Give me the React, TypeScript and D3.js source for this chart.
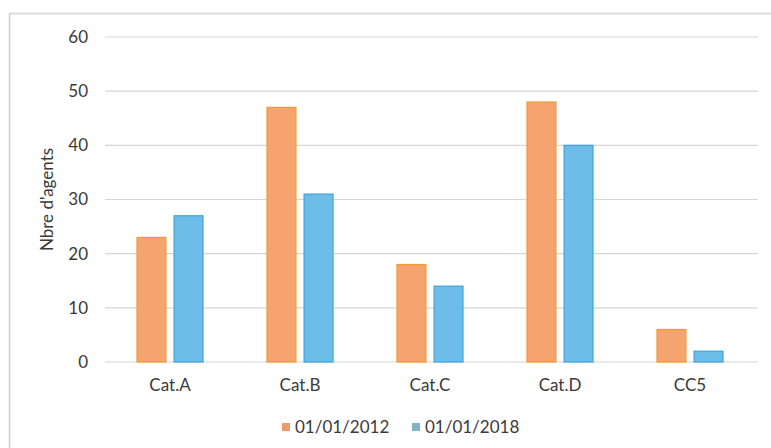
import React from "react";
import * as d3 from "d3";

const categories = ["Cat.A", "Cat.B", "Cat.C", "Cat.D", "CC5"];
const series2012 = [23, 47, 18, 48, 6];
const series2018 = [27, 31, 14, 40, 2];
const seriesNames = ["01/01/2012", "01/01/2018"];
const yTicks = [0, 10, 20, 30, 40, 50, 60];

const W = 771;
const H = 448;
const FONT = "Lato, 'Open Sans', sans-serif";

export default function App() {
  const y = d3.scaleLinear().domain([0, 60]).range([362, 37]);
  const x = d3.scaleBand<string>().domain(categories).range([105, 755]);
  const groupW = 66;
  const inner = d3
    .scaleBand<string>()
    .domain(seriesNames)
    .range([0, groupW])
    .paddingInner(0.22);
  const fills = ["#F5A46F", "#6DBDE8"];
  const strokes = ["#F39A2E", "#3FA3DA"];
  const data = [series2012, series2018];

  return (
    <svg
      width={W}
      height={H}
      style={{ position: "absolute", left: 0, top: 0, background: "#fff" }}
    >
      <rect x={0} y={0} width={W} height={H} fill="#fff" />
      <line x1={9} x2={W} y1={13.5} y2={13.5} stroke="#dcdcdc" strokeWidth={2} />
      <line x1={9.5} x2={9.5} y1={13} y2={H} stroke="#cfcfcf" strokeWidth={1.5} />
      {yTicks.map((t) => (
        <g key={t}>
          <line
            x1={105}
            x2={758}
            y1={y(t)}
            y2={y(t)}
            stroke="#d6d6d6"
            strokeWidth={1.2}
          />
          <text
            x={88}
            y={y(t)}
            dy="0.35em"
            textAnchor="end"
            fontFamily={FONT}
            fontSize={17}
            fill="#3a3a3a"
          >
            {t}
          </text>
        </g>
      ))}
      <text
        transform={`translate(53,${y(30)}) rotate(-90)`}
        textAnchor="middle"
        fontFamily={FONT}
        fontSize={17}
        fill="#3a3a3a"
      >
        Nbre d'agents
      </text>
      {categories.map((c, i) => {
        const cx = (x(c) as number) + x.bandwidth() / 2;
        const gx = cx - groupW / 2;
        return (
          <g key={c}>
            {seriesNames.map((s, k) => (
              <rect
                key={s}
                x={gx + (inner(s) as number)}
                y={y(data[k][i])}
                width={inner.bandwidth()}
                height={y(0) - y(data[k][i])}
                fill={fills[k]}
                stroke={strokes[k]}
                strokeWidth={1.2}
              />
            ))}
            <text
              x={cx}
              y={391}
              textAnchor="middle"
              fontFamily={FONT}
              fontSize={17}
              fill="#3a3a3a"
            >
              {c}
            </text>
          </g>
        );
      })}
      {seriesNames.map((s, k) => {
        const lx = 282 + k * 130;
        return (
          <g key={s}>
            <rect x={lx} y={423} width={8} height={8} fill={k === 0 ? "#EE9A6A" : "#7FB3C8"} />
            <text
              x={lx + 13}
              y={427}
              dy="0.35em"
              fontFamily={FONT}
              fontSize={17}
              fill="#3a3a3a"
            >
              {s}
            </text>
          </g>
        );
      })}
    </svg>
  );
}
